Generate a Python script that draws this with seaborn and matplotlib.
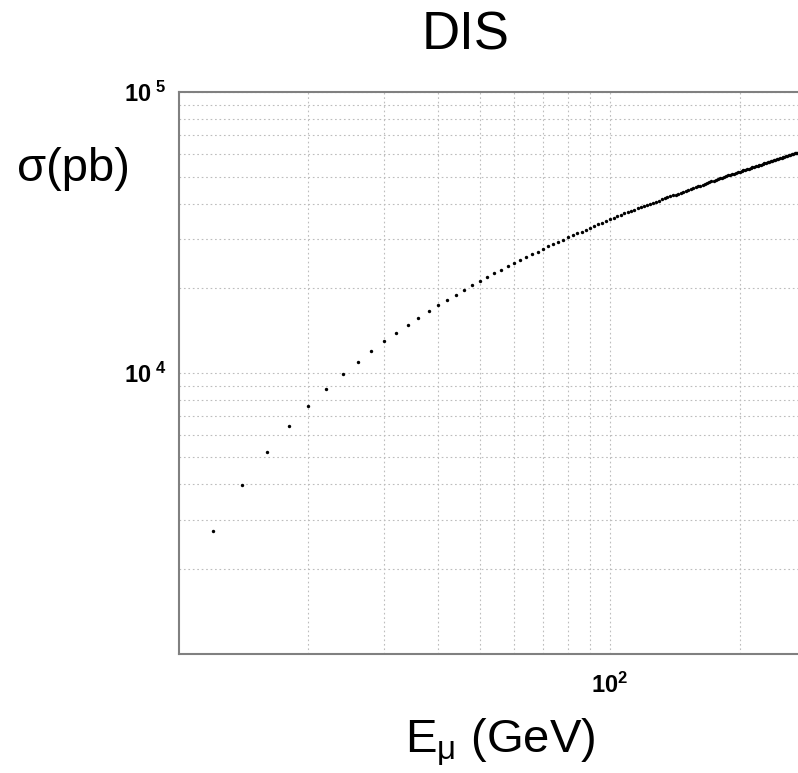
import matplotlib
matplotlib.use("Agg")
import matplotlib.pyplot as plt
import matplotlib.ticker as mticker
import seaborn as sns
import pandas as pd

energy_gev = [12, 14, 16, 18, 20, 22, 24, 26, 28, 30, 32, 34, 36, 38, 40, 42, 44, 46, 48, 50,
              52, 54, 56, 58, 60, 62, 64, 66, 68, 70, 72, 74, 76, 78, 80, 82, 84, 86, 88, 90,
              92, 94, 96, 98, 100, 102, 104, 106, 108, 110, 112, 114, 116, 118, 120, 122, 124,
              126, 128, 130, 132, 134, 136, 138, 140, 142, 144, 146, 148, 150, 152, 154, 156,
              158, 160, 162, 164, 166, 168, 170, 172, 174, 176, 178, 180, 182, 184, 186, 188,
              190, 192, 194, 196, 198, 200, 202, 204, 206, 208, 210, 212, 214, 216, 218, 220,
              222, 224, 226, 228, 230, 232, 234, 236, 238, 240, 242, 244, 246, 248, 250, 252,
              254, 256, 258, 260, 262, 264, 266, 268, 270, 272]
sigma_pb = [2720, 3990, 5230, 6460, 7630, 8750, 9870, 10940, 11950, 12940, 13880, 14830,
            15720, 16560, 17400, 18200, 18980, 19760, 20510, 21250, 21930, 22600, 23260,
            23930, 24590, 25200, 25810, 26410, 27000, 27600, 28180, 28740, 29290, 29820,
            30340, 30850, 31350, 31850, 32340, 32830, 33320, 33800, 34280, 34760, 35230,
            35700, 36170, 36570, 36960, 37350, 37740, 38120, 38500, 38880, 39260, 39630,
            40000, 40360, 40720, 41070, 41420, 41770, 42110, 42460, 42800, 43140, 43480,
            43810, 44150, 44480, 44810, 45140, 45460, 45790, 46110, 46430, 46750, 47070,
            47380, 47690, 48010, 48320, 48630, 48930, 49240, 49540, 49850, 50140, 50420,
            50690, 50960, 51230, 51500, 51770, 52040, 52310, 52570, 52840, 53100, 53360,
            53620, 53880, 54140, 54390, 54650, 54900, 55150, 55410, 55660, 55910, 56150,
            56400, 56650, 56890, 57140, 57380, 57630, 57870, 58110, 58350, 58590, 58820,
            59060, 59300, 59530, 59770, 60000, 60200, 60400, 60600, 60800]

title_text = "DIS"
ylabel_text = "σ(pb)"
x_major = [100]
x_major_labels = [r"$\mathbf{10}^{\mathbf{2}}$"]
y_major = [1e4, 1e5]
y_major_labels = [r"$\mathbf{10}^{\ \mathbf{4}}$", r"$\mathbf{10}^{\ \mathbf{5}}$"]

sns.set_theme(style="white")
plt.rcParams["font.family"] = ["Liberation Sans", "DejaVu Sans"]
plt.rcParams["mathtext.fontset"] = "custom"
plt.rcParams["mathtext.rm"] = "Liberation Sans"
plt.rcParams["mathtext.it"] = "Liberation Sans:italic"
plt.rcParams["mathtext.bf"] = "Liberation Sans:bold"
plt.rcParams["text.color"] = "black"

W, H = 798, 773
fig = plt.figure(figsize=(W / 100, H / 100), dpi=100)
ax = fig.add_axes([178.5 / W, (H - 653.5) / H, 1 - 178.5 / W, (653.5 - 92) / H])

df = pd.DataFrame({"E": energy_gev, "sigma": sigma_pb})
sns.scatterplot(data=df, x="E", y="sigma", ax=ax, color="black", s=6, linewidth=0, legend=False)

ax.set_xscale("log")
ax.set_yscale("log")
ax.set_xlim(10, 273)
ax.set_ylim(1e3, 1e5)

ax.xaxis.set_major_locator(mticker.FixedLocator(x_major))
ax.xaxis.set_major_formatter(mticker.FixedFormatter(x_major_labels))
ax.yaxis.set_major_locator(mticker.FixedLocator(y_major))
ax.yaxis.set_major_formatter(mticker.FixedFormatter(y_major_labels))
ax.xaxis.set_minor_locator(mticker.LogLocator(base=10, subs=[2, 3, 4, 5, 6, 7, 8, 9]))
ax.yaxis.set_minor_locator(mticker.LogLocator(base=10, subs=[2, 3, 4, 5, 6, 7, 8, 9]))
ax.xaxis.set_minor_formatter(mticker.NullFormatter())
ax.yaxis.set_minor_formatter(mticker.NullFormatter())

ax.grid(True, which="both", linestyle=(0, (1.5, 2.5)), color="#bdbdbd", linewidth=0.8)
ax.tick_params(axis="both", which="both", direction="in", colors="#808080",
               labelcolor="black", width=0.8)
ax.tick_params(axis="both", which="major", length=9, labelsize=17)
ax.tick_params(axis="both", which="minor", length=4)
ax.tick_params(axis="x", which="major", pad=14)
ax.tick_params(axis="y", which="major", pad=9)

for side in ["left", "bottom", "top"]:
    ax.spines[side].set_color("#808080")
    ax.spines[side].set_linewidth(1.5)
ax.spines["right"].set_visible(False)

ax.set_xlabel("")
ax.set_ylabel("")

fig.text(466 / W, 1 - 36 / H, title_text, ha="center", va="center", fontsize=38, color="black")
fig.text(17 / W, 1 - 169 / H, ylabel_text, ha="left", va="center", fontsize=34, color="black")
fig.text(500 / W, 21 / H, r"E$_{\mathrm{\mu}}$ (GeV)", ha="center", va="baseline",
         fontsize=34, color="black")

fig.savefig("out.png", dpi=100)
